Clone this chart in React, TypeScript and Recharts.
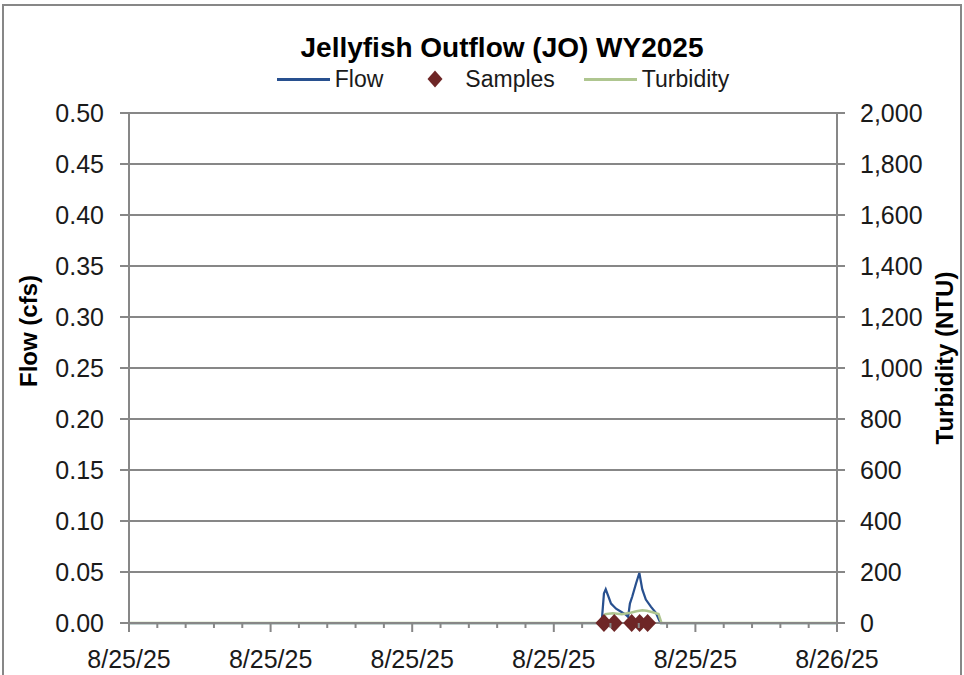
import React from 'react';
import {CartesianGrid, ComposedChart, Line, Scatter, XAxis, YAxis} from 'recharts';

// hours after 8/25/25 00:00
const flowHours = [0, 16.02, 16.1, 16.16, 16.25, 16.34, 16.51, 16.68, 16.85, 16.92, 16.98, 17.06, 17.19, 17.3, 17.4, 17.52, 17.69, 17.86, 17.97, 18.02, 24];
const flowValues = [0, 0, 0.029, 0.033, 0.026, 0.019, 0.014, 0.011, 0.008, 0.006, 0.019, 0.026, 0.039, 0.049, 0.033, 0.023, 0.016, 0.01, 0.003, 0, 0];

const turbHours = [0, 16.05, 16.15, 16.4, 16.7, 17.0, 17.2, 17.4, 17.55, 17.75, 17.95, 18.05, 24];
const turbValues = [0, 0, 35, 38, 34, 40, 46, 50, 48, 42, 35, 0, 0];

const sampleHours = [16.1, 16.45, 17.04, 17.31, 17.58];
const sampleValues = [0, 0, 0, 0, 0];

const xMajorTicks = [0, 4.8, 9.6, 14.4, 19.2, 24];
const xTickLabels = ['8/25/25', '8/25/25', '8/25/25', '8/25/25', '8/25/25', '8/26/25'];
const flowTicks = [0, 0.05, 0.1, 0.15, 0.2, 0.25, 0.3, 0.35, 0.4, 0.45, 0.5];
const ntuTicks = [0, 200, 400, 600, 800, 1000, 1200, 1400, 1600, 1800, 2000];

const xAllTicks = Array.from({length: 26}, (_, i) => Math.round(i * 0.96 * 100) / 100);

const flowData = flowHours.map((h, i) => ({h, flow: flowValues[i]}));
const turbData = turbHours.map((h, i) => ({h, ntu: turbValues[i]}));
const sampleData = sampleHours.map((h, i) => ({h, v: sampleValues[i]}));

const FLOW = '#28508F';
const TURB = '#AFC690';
const SAMPLE = '#6E2626';
const GRID = '#878787';
const FONT = '"Liberation Sans", Arial, sans-serif';

const XTick = (props: any) => {
    const {x, y, payload} = props;
    const idx = xMajorTicks.indexOf(payload.value);
    const major = idx >= 0;
    return (
        <g>
            <line x1={x} x2={x} y1={y} y2={y + (major ? 9 : 5)} stroke={GRID} strokeWidth={2} />
            {major && (
                <text x={x} y={y + 27} dy='0.71em' textAnchor='middle' fontSize={25} fill='#1a1a1a' fontFamily={FONT}>
                    {xTickLabels[idx]}
                </text>
            )}
        </g>
    );
};

const renderDiamond = (props: any) => {
    const {cx, cy} = props;
    return <path d={`M${cx},${cy - 9}L${cx + 8.5},${cy}L${cx},${cy + 9}L${cx - 8.5},${cy}Z`} fill={SAMPLE} />;
};

const axisTitle = (text: string, dx: number, dy: number) => (props: any) => {
    const {x, y, height} = props.viewBox;
    const cx = x + dx;
    const cy = y + height / 2 + dy;
    return (
        <text x={cx} y={cy} transform={`rotate(-90, ${cx}, ${cy})`} textAnchor='middle' dominantBaseline='central'
              fontSize={24} fontWeight='bold' fill='#000' fontFamily={FONT}>
            {text}
        </text>
    );
};

const App = () => {
    return (
        <div style={{position: 'absolute', left: 0, top: 0, width: 964, height: 675, overflow: 'hidden', background: '#fff', fontFamily: FONT}}>
            <div style={{position: 'absolute', left: 2, top: 4, width: 960, height: 720, border: `2px solid ${GRID}`, boxSizing: 'border-box'}} />
            <div style={{position: 'absolute', left: 0, top: 34, width: 1004, textAlign: 'center', fontSize: 28, lineHeight: '28px', fontWeight: 'bold', color: '#000'}}>
                Jellyfish Outflow (JO) WY2025
            </div>
            <div style={{position: 'absolute', left: 42, top: 66, width: 922, height: 26, display: 'flex', justifyContent: 'center', alignItems: 'center', fontSize: 23, color: '#1a1a1a'}}>
                <span style={{width: 53, height: 3, background: FLOW, display: 'inline-block'}} />
                <span style={{marginLeft: 5}}>Flow</span>
                <svg width={16} height={18} style={{marginLeft: 44}}>
                    <path d='M8,0.5L15.5,9L8,17.5L0.5,9Z' fill={SAMPLE} />
                </svg>
                <span style={{marginLeft: 22}}>Samples</span>
                <span style={{width: 53, height: 3, background: TURB, display: 'inline-block', marginLeft: 29}} />
                <span style={{marginLeft: 5}}>Turbidity</span>
            </div>
            <div style={{position: 'absolute', left: 0, top: 0}}>
                <ComposedChart width={964} height={675} margin={{top: 113, right: 0, bottom: 0, left: 0}}>
                    <CartesianGrid vertical={false} yAxisId='left' stroke={GRID} strokeWidth={2} />
                    <XAxis
                        dataKey='h'
                        type='number'
                        domain={[0, 24]}
                        ticks={xAllTicks}
                        interval={0}
                        tick={<XTick />}
                        tickLine={false}
                        tickSize={0}
                        tickMargin={0}
                        height={52}
                        axisLine={{stroke: GRID, strokeWidth: 2}}
                    />
                    <YAxis
                        yAxisId='left'
                        domain={[0, 0.5]}
                        ticks={flowTicks}
                        interval={0}
                        width={129}
                        tickFormatter={(v) => v.toFixed(2)}
                        tick={{fontSize: 25, fill: '#1a1a1a', fontFamily: FONT}}
                        tickSize={9}
                        tickMargin={16}
                        tickLine={{stroke: GRID, strokeWidth: 2}}
                        axisLine={{stroke: GRID, strokeWidth: 2}}
                        label={axisTitle('Flow (cfs)', 28, -37)}
                    />
                    <YAxis
                        yAxisId='right'
                        orientation='right'
                        domain={[0, 2000]}
                        ticks={ntuTicks}
                        interval={0}
                        width={127}
                        tickFormatter={(v) => v.toLocaleString('en-US')}
                        tick={{fontSize: 25, fill: '#1a1a1a', fontFamily: FONT}}
                        tickSize={8}
                        tickMargin={15}
                        tickLine={{stroke: GRID, strokeWidth: 2}}
                        axisLine={{stroke: GRID, strokeWidth: 2}}
                        label={axisTitle('Turbidity (NTU)', 107, -10)}
                    />
                    <Line
                        yAxisId='left'
                        data={flowData}
                        dataKey='flow'
                        type='linear'
                        stroke={FLOW}
                        strokeWidth={2.25}
                        dot={false}
                        isAnimationActive={false}
                    />
                    <Line
                        yAxisId='right'
                        data={turbData}
                        dataKey='ntu'
                        type='linear'
                        stroke={TURB}
                        strokeWidth={2.5}
                        dot={false}
                        isAnimationActive={false}
                    />
                    <Scatter
                        yAxisId='left'
                        data={sampleData}
                        dataKey='v'
                        shape={renderDiamond}
                        isAnimationActive={false}
                    />
                </ComposedChart>
            </div>
        </div>
    );
};

export default App;
